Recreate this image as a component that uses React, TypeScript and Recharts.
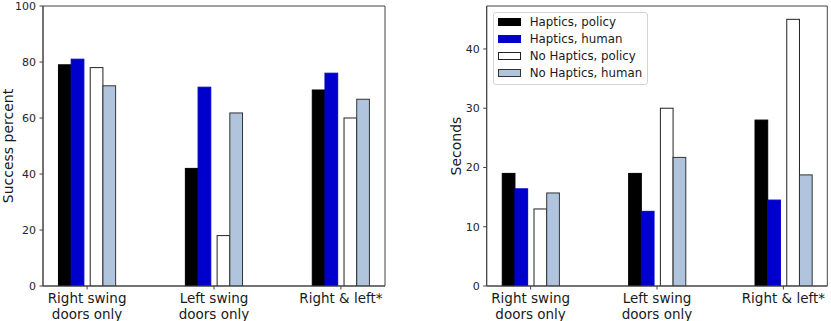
import { BarChart, Bar, XAxis, YAxis, Legend, ReferenceArea } from 'recharts'

// group labels, x positions of the groups
const categories = ['Right swing\ndoors only', 'Left swing\ndoors only', 'Right & left*']
const positions = [0, 1, 2]

// success rate (%)
const successHapticsPolicy = [79, 42, 70]
const successHapticsHuman = [81, 71, 76]
const successNoHapticsPolicy = [78, 18, 60]
const successNoHapticsHuman = [71.5, 61.8, 66.7]

// completion time (s)
const secondsHapticsPolicy = [19, 19, 28]
const secondsHapticsHuman = [16.4, 12.6, 14.5]
const secondsNoHapticsPolicy = [13, 30, 45]
const secondsNoHapticsHuman = [15.7, 21.7, 18.75]

const successTicks = [0, 20, 40, 60, 80, 100]
const secondsTicks = [0, 10, 20, 30, 40]

const seriesNames = ['Haptics, policy', 'Haptics, human', 'No Haptics, policy', 'No Haptics, human']
const seriesKeys = ['hp', 'hh', 'np', 'nh']
const seriesFills = ['#000000', '#0000cc', '#ffffff', '#b0c4de']
const seriesStrokes = ['#000000', '#0000cc', '#222222', '#333333']
// first pair sits left of the gap, second pair right of it
const seriesSide = [-1, -1, 1, 1]

const X_DOMAIN = [-0.3475, 2.3475]
const FONT = 'DejaVu Sans, sans-serif'
const SPINE = '#444'

function buildRows(cols: number[][]) {
  return positions.map((x, i) => {
    const row: any = { x }
    seriesKeys.forEach((k, s) => { row[k] = cols[s][i] })
    return row
  })
}

const successData = buildRows([successHapticsPolicy, successHapticsHuman, successNoHapticsPolicy, successNoHapticsHuman])
const secondsData = buildRows([secondsHapticsPolicy, secondsHapticsHuman, secondsNoHapticsPolicy, secondsNoHapticsHuman])

const shiftedBar = (side: number) => (props: any) => {
  const { x, y, width, height, fill, stroke } = props
  if (!height) return <g />
  return (
    <rect
      x={x + (side * width) / 4}
      y={y}
      width={width}
      height={height}
      fill={fill}
      stroke={stroke}
      strokeWidth={1}
    />
  )
}

function CategoryTick({ x, y, payload }: any) {
  const lines = categories[payload.value].split('\n')
  return (
    <text x={x} y={y} textAnchor="middle" fontSize={13.5} fill="#1a1a1a" fontFamily={FONT}>
      {lines.map((l, i) => (
        <tspan key={i} x={x} dy={i === 0 ? 11.5 : 15.5}>{l}</tspan>
      ))}
    </text>
  )
}

function LegendBox() {
  return (
    <div
      style={{
        border: '1px solid #d4d4d4',
        borderRadius: 3,
        background: 'rgba(255,255,255,0.85)',
        padding: '1px 5px 2px 4px',
        fontSize: 11.8,
        fontFamily: FONT,
        color: '#1a1a1a',
      }}
    >
      {seriesNames.map((n, i) => (
        <div key={n} style={{ display: 'flex', alignItems: 'center', height: 17, whiteSpace: 'nowrap' }}>
          <span
            style={{
              display: 'inline-block',
              width: 23,
              height: 8,
              boxSizing: 'border-box',
              background: seriesFills[i],
              border: `1px solid ${seriesStrokes[i]}`,
              marginRight: 9,
            }}
          />
          <span>{n}</span>
        </div>
      ))}
    </div>
  )
}

type PanelProps = {
  data: any[]
  yDomain: number[]
  yTicks: number[]
  yLabel: string
  left: number
  width: number
  yAxisWidth: number
  rightMargin: number
  labelOffset: number
  legend?: boolean
}

function Panel({ data, yDomain, yTicks, yLabel, left, width, yAxisWidth, rightMargin, labelOffset, legend }: PanelProps) {
  return (
    <div style={{ position: 'absolute', left, top: 0 }}>
      <BarChart
        width={width}
        height={321}
        data={data}
        margin={{ top: 6, right: rightMargin, left: 0, bottom: 0 }}
        barGap={0}
        barSize={12.7}
      >
        <XAxis
          dataKey="x"
          type="number"
          domain={X_DOMAIN}
          allowDataOverflow
          ticks={positions}
          interval={0}
          height={35}
          tick={(p: any) => <CategoryTick {...p} />}
          tickSize={3.5}
          tickMargin={2}
          stroke={SPINE}
        />
        <YAxis
          type="number"
          domain={yDomain}
          allowDataOverflow
          ticks={yTicks}
          interval={0}
          width={yAxisWidth}
          tickSize={3.5}
          tickMargin={3.5}
          tick={{ fontSize: 11, fill: '#262626', fontFamily: FONT }}
          stroke={SPINE}
          label={{
            value: yLabel,
            angle: -90,
            position: 'insideLeft',
            offset: labelOffset,
            style: { textAnchor: 'middle', fontSize: 14, fill: '#1a1a1a', fontFamily: FONT },
          }}
        />
        {seriesKeys.map((k, i) => (
          <Bar
            key={k}
            dataKey={k}
            name={seriesNames[i]}
            fill={seriesFills[i]}
            stroke={seriesStrokes[i]}
            shape={shiftedBar(seriesSide[i])}
            isAnimationActive={false}
          />
        ))}
        {/* axes frame */}
        <ReferenceArea
          x1={X_DOMAIN[0]}
          x2={X_DOMAIN[1]}
          y1={yDomain[0]}
          y2={yDomain[1]}
          fill="none"
          fillOpacity={0}
          stroke={SPINE}
          strokeWidth={1}
          ifOverflow="visible"
        />
        {legend && (
          <Legend
            layout="horizontal"
            verticalAlign="middle"
            align="center"
            content={() => <LegendBox />}
            wrapperStyle={{ left: 72.7, top: 11.7, width: 'auto', height: 'auto' }}
          />
        )}
      </BarChart>
    </div>
  )
}

export default function App() {
  return (
    <div style={{ position: 'absolute', left: 0, top: 0, width: 831, height: 321, background: '#fff', fontFamily: FONT }}>
      <Panel
        data={successData}
        yDomain={[0, 100]}
        yTicks={successTicks}
        yLabel="Success percent"
        left={0}
        width={410}
        yAxisWidth={43}
        rightMargin={25}
        labelOffset={8}
      />
      <Panel
        data={secondsData}
        yDomain={[0, 47.25]}
        yTicks={secondsTicks}
        yLabel="Seconds"
        left={420}
        width={411}
        yAxisWidth={66.7}
        rightMargin={3.7}
        labelOffset={36}
        legend
      />
    </div>
  )
}
